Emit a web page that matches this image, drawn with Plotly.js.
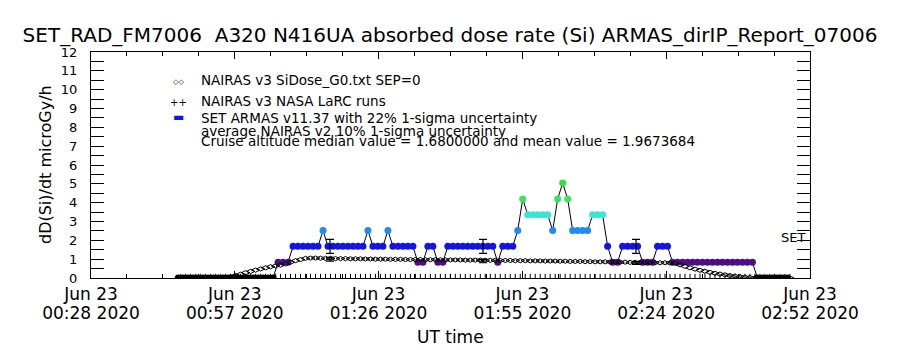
<!DOCTYPE html>
<html>
<head>
<meta charset="utf-8">
<script src="https://cdn.plot.ly/plotly-3.0.1.min.js"></script>
<style>html,body{margin:0;padding:0;background:#fff;}#chart{width:900px;height:350px;}</style>
</head>
<body>
<div id="chart"></div>
<script>
// ---- data (UT minutes on 2020-06-23; samples at hh:mm:18) ----
const sampleMinutes = [
 '00:46','00:47','00:48','00:49','00:50','00:51','00:52','00:53','00:54','00:55','00:56','00:57','00:58','00:59',
 '01:00','01:01','01:02','01:03','01:04','01:05','01:06','01:07','01:08','01:09','01:10','01:11','01:12','01:13','01:14',
 '01:15','01:16','01:17','01:18','01:19','01:20','01:21','01:22','01:23','01:24','01:25','01:26','01:27','01:28','01:29',
 '01:30','01:31','01:32','01:33','01:34','01:35','01:36','01:37','01:38','01:39','01:40','01:41','01:42','01:43','01:44',
 '01:45','01:46','01:47','01:48','01:49','01:50','01:51','01:52','01:53','01:54','01:55','01:56','01:57','01:58','01:59',
 '02:00','02:01','02:02','02:03','02:04','02:05','02:06','02:07','02:08','02:09','02:10','02:11','02:12','02:13','02:14',
 '02:15','02:16','02:17','02:18','02:19','02:20','02:21','02:22','02:23','02:24','02:25','02:26','02:27','02:28','02:29',
 '02:30','02:31','02:32','02:33','02:34','02:35','02:36','02:37','02:38','02:39','02:40','02:41','02:42','02:43','02:44',
 '02:45','02:46','02:47','02:48'
];
// SET ARMAS v11.37 absorbed dose rate (microGy/h)
const armasDose = [
 0,0,0,0,0,0,0,0,0,0,0,0,0,0,
 0,0,0,0,0,0,0.84,0.84,0.84,1.68,1.68,1.68,1.68,1.68,1.68,
 2.52,1.68,1.68,1.68,1.68,1.68,1.68,1.68,1.68,2.52,1.68,1.68,1.68,2.52,1.68,
 1.68,1.68,1.68,1.68,0.84,0.84,1.68,1.68,0.84,0.84,1.68,1.68,1.68,1.68,1.68,
 1.68,1.68,1.68,1.68,1.68,0.84,1.68,1.68,1.68,2.52,4.2,3.36,3.36,3.36,3.36,
 3.36,2.52,4.2,5.04,4.2,2.52,2.52,2.52,2.52,3.36,3.36,3.36,1.68,0.84,0.84,
 1.68,1.68,1.68,1.68,0.84,0.84,0.84,1.68,1.68,1.68,0.84,0.84,0.84,0.84,0.84,
 0.84,0.84,0.84,0.84,0.84,0.84,0.84,0.84,0.84,0.84,0.84,0.84,0,0,0,
 0,0,0,0
];
// NAIRAS v3 SiDose_G0.txt SEP=0
const nairasDose = [
 0,0,0,0,0,0,0,0,0,0.03,0.07,0.13,0.2,0.28,
 0.35,0.42,0.48,0.54,0.6,0.64,0.68,0.75,0.84,0.92,0.98,1.04,1.06,1.06,1.05,
 1.04,1.04,1.03,1.03,1.03,1.02,1.02,1.02,1.01,1.01,1.0,1.0,1.0,0.99,0.99,
 0.99,0.98,0.98,0.98,0.98,0.97,0.97,0.97,0.97,0.96,0.96,0.96,0.96,0.95,0.95,
 0.95,0.95,0.94,0.94,0.94,0.93,0.93,0.93,0.92,0.92,0.92,0.91,0.91,0.91,0.9,
 0.9,0.9,0.89,0.89,0.88,0.88,0.88,0.87,0.87,0.86,0.86,0.86,0.85,0.85,0.84,
 0.84,0.83,0.83,0.82,0.82,0.82,0.81,0.81,0.81,0.8,0.79,0.7,0.62,0.54,0.47,
 0.41,0.36,0.3,0.25,0.21,0.17,0.13,0.1,0.07,0.05,0.03,0.01,0,0,0,
 0,0,0,0
];
// NAIRAS v3 NASA LaRC runs
const larcTime = ['01:16:42','01:47:21','02:17:59'];
const larcDose = [1.0, 0.9, 0.8];
const larcUncPct = 10;
// ARMAS cruise median with 22% 1-sigma
const cruiseMedian = 1.68;
const cruiseMean = 1.9673684;
const armasUncPct = 22;
// ARMAS dose levels and their colours
const doseLevels = [0, 0.84, 1.68, 2.52, 3.36, 4.2, 5.04];
const levelColors = ['#000000','#4e0c86','#1414e4','#1e8cf2','#3ce4d2','#3ce45c','#30e03c'];
const yTicks = [0,1,2,3,4,5,6,7,8,9,10,11,12];

const day = '2020-06-23 ';
const sampleTime = sampleMinutes.map(m => day + m + ':18');
const nairasTime = sampleMinutes.map(m => day + m + ':48');
const larcT = larcTime.map(t => day + t);
const larcMedian = larcTime.map(() => cruiseMedian);

// pixel -> paper helpers (layout only)
const L = 91, R = 810, T = 52, B = 278;
const px = x => (x - L) / (R - L);
const py = y => (B - y) / (B - T);

const cmax = doseLevels[doseLevels.length - 1];
const colorscale = doseLevels.map((v, i) => [v / cmax, levelColors[i]]);

const FONT = 'DejaVu Sans, sans-serif';

const traces = [
  { // sample-time rug on the baseline
    x: nairasTime, y: nairasTime.map(() => 0), type: 'scatter', mode: 'markers',
    marker: {symbol: 'line-ns-open', size: 6, color: '#000', line: {width: 1, color: '#000'}},
    showlegend: false, hoverinfo: 'skip'
  },
  {
    x: sampleTime, y: armasDose, type: 'scatter', mode: 'lines+markers',
    line: {color: '#000', width: 1},
    marker: {symbol: 'circle', size: 7, color: armasDose, colorscale: colorscale, cmin: 0, cmax: cmax, line: {width: 0}},
    showlegend: false, hoverinfo: 'skip'
  },
  {
    x: nairasTime, y: nairasDose, type: 'scatter', mode: 'markers',
    marker: {symbol: 'diamond-wide-open', size: 6, color: '#000', line: {width: 1, color: '#000'}},
    showlegend: false, hoverinfo: 'skip'
  },
  {
    x: larcT, y: larcMedian, type: 'scatter', mode: 'markers',
    marker: {size: 1, color: 'rgba(0,0,0,0)'},
    error_y: {type: 'percent', value: armasUncPct, color: '#000', thickness: 1.2, width: 4},
    showlegend: false, hoverinfo: 'skip'
  },
  {
    x: larcT, y: larcDose, type: 'scatter', mode: 'markers',
    marker: {symbol: 'line-ew-open', size: 6, color: '#000', line: {width: 1, color: '#000'}},
    error_y: {type: 'percent', value: larcUncPct, color: '#000', thickness: 1.2, width: 4},
    showlegend: false, hoverinfo: 'skip'
  },
  { // carrier for the date line of the tick labels
    x: [sampleTime[0]], y: [null], xaxis: 'x2', yaxis: 'y', type: 'scatter', mode: 'markers',
    showlegend: false, hoverinfo: 'skip'
  }
];

const legendFont = {family: FONT, size: 13.5, color: '#000'};
const ann = (x, y, text, extra) => Object.assign({xref: 'paper', yref: 'paper', x: px(x), y: py(y), text: text, showarrow: false, xanchor: 'left', yanchor: 'middle', font: legendFont}, extra || {});

const annotations = [
  ann(199, 80, 'NAIRAS v3 SiDose_G0.txt SEP=0'),
  ann(199, 101, 'NAIRAS v3 NASA LaRC runs'),
  ann(199, 118, 'SET ARMAS v11.37 with 22% 1-sigma uncertainty'),
  ann(199, 131, 'average NAIRAS v2 10% 1-sigma uncertainty'),
  ann(199, 141, 'Cruise altitude median value = ' + cruiseMedian.toFixed(7) + ' and mean value = ' + cruiseMean.toFixed(7)),
  ann(178, 82, '◇◇', {xanchor: 'center', font: {family: FONT, size: 7, color: '#000'}}),
  ann(178, 102, '++', {xanchor: 'center', font: {family: FONT, size: 10, color: '#000'}}),
  ann(178, 117, '▬', {xanchor: 'center', font: {family: FONT, size: 12, color: levelColors[2]}}),
  {xref: 'paper', yref: 'y', x: px(807), y: 2.15, text: 'SET', showarrow: false, xanchor: 'right', yanchor: 'middle', font: {family: FONT, size: 13, color: '#000'}},
  {xref: 'paper', yref: 'paper', x: px(45), y: py(165), text: 'dD(Si)/dt microGy/h', textangle: -90, showarrow: false, xanchor: 'center', yanchor: 'middle', font: {family: FONT, size: 16, color: '#000'}},
  {xref: 'paper', yref: 'paper', x: 0.5, y: py(337), text: 'UT time', showarrow: false, xanchor: 'center', yanchor: 'middle', font: {family: FONT, size: 17, color: '#000'}}
];

const xRange = [day + '00:28:50', day + '02:52:50'];
const tickFont = {family: FONT, size: 17, color: '#000'};

const layout = {
  width: 900, height: 350,
  margin: {l: L, r: 900 - R, t: T, b: 350 - B, pad: 0},
  paper_bgcolor: '#fff', plot_bgcolor: '#fff',
  showlegend: false,
  title: {text: 'SET_RAD_FM7006  A320 N416UA absorbed dose rate (Si) ARMAS_dirIP_Report_07006',
          x: 0.5, xanchor: 'center', y: 1 - 35 / 350, yanchor: 'middle', yref: 'container',
          font: {family: FONT, size: 20, color: '#000'}},
  xaxis: {
    type: 'date', range: xRange,
    tickmode: 'linear', tick0: xRange[0], dtick: 1728000,
    tickformat: '%H:%M %Y',
    ticks: 'inside', ticklen: 7, tickwidth: 1, tickcolor: '#000',
    minor: {dtick: 432000, tick0: xRange[0], ticks: 'inside', ticklen: 4, tickcolor: '#000', showgrid: false},
    showline: true, linecolor: '#000', linewidth: 1, mirror: 'allticks',
    showgrid: false, zeroline: false,
    tickfont: tickFont,
    ticklabelstandoff: 20
  },
  xaxis2: {
    type: 'date', range: xRange, overlaying: 'x', anchor: 'y', side: 'bottom',
    tickmode: 'linear', tick0: xRange[0], dtick: 1728000,
    tickformat: '%b %d',
    ticks: '', showline: false, showgrid: false, zeroline: false,
    tickfont: tickFont,
    ticklabelstandoff: 4
  },
  yaxis: {
    range: [0, 12], tickmode: 'array', tickvals: yTicks, ticktext: yTicks.map(String),
    ticks: 'inside', ticklen: 13, tickwidth: 1, tickcolor: '#000',
    minor: {dtick: 0.5, ticks: 'inside', ticklen: 7, tickcolor: '#000', showgrid: false},
    showline: true, linecolor: '#000', linewidth: 1, mirror: 'allticks',
    showgrid: false, zeroline: false,
    tickfont: {family: FONT, size: 13, color: '#000'},
    ticklabelstandoff: 10
  },
  annotations: annotations
};

Plotly.newPlot('chart', traces, layout, {staticPlot: true, displayModeBar: false});
</script>
</body>
</html>
